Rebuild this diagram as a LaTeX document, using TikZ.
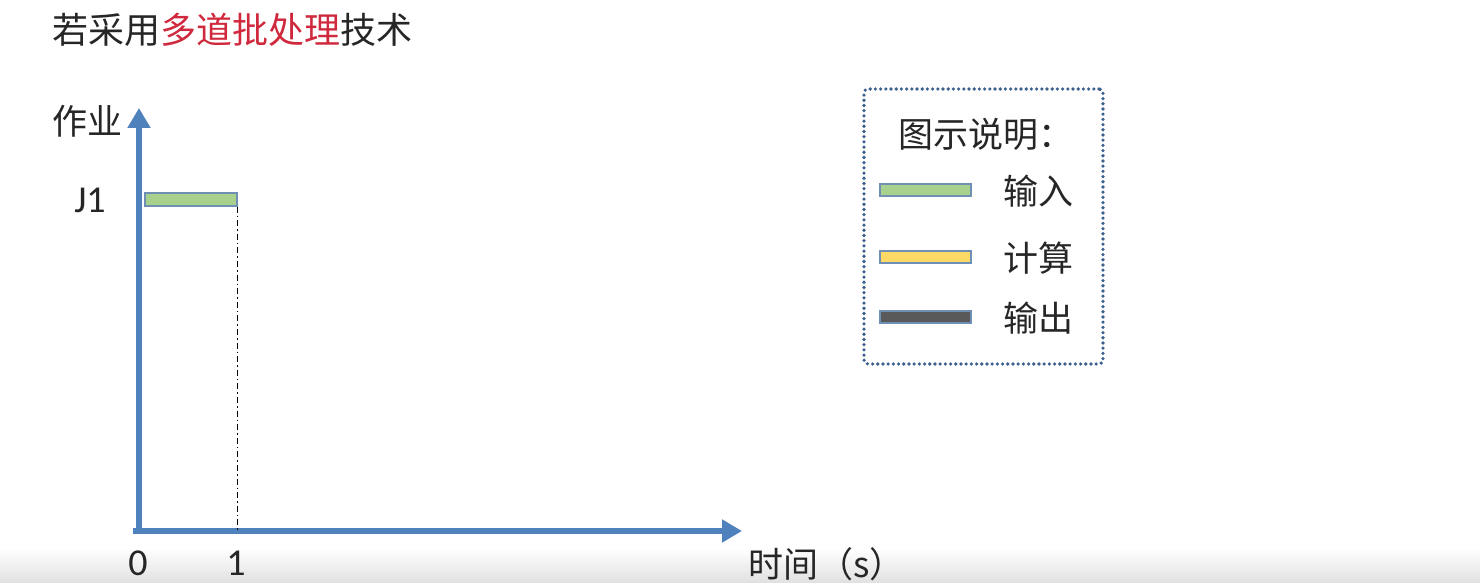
\documentclass[tikz,border=0pt]{standalone}
\usepackage{fontspec}
\setmainfont{Carlito}
\newfontfamily\cjk{Noto Sans CJK SC}[Scale=1]
\usetikzlibrary{arrows.meta}
\definecolor{axisblue}{HTML}{4F81BD}
\definecolor{axisedge}{HTML}{41719C}
\definecolor{ingreen}{HTML}{A9D18E}
\definecolor{calcyellow}{HTML}{FFD966}
\definecolor{outgray}{HTML}{595959}
\definecolor{baredge}{HTML}{6F8FB5}
\definecolor{legendblue}{HTML}{3A5F8C}
\definecolor{titlered}{HTML}{D0283C}
\tikzset{
  axis/.style={line width=3pt, draw=axisblue, -{Triangle[width=11pt,length=10pt]}},
  bar/.style={draw=baredge, line width=0.6pt},
  txt/.style={inner sep=0pt, font=\cjk\fontsize{17.5pt}{20pt}\selectfont, text=black!85},
  num/.style={inner sep=0pt, font=\fontsize{19pt}{21pt}\selectfont, text=black!85},
}
\begin{document}
\begin{tikzpicture}[x=0.5pt,y=-0.5pt]
\useasboundingbox (0,0) rectangle (1480,583);
\fill[white] (0,0) rectangle (1480,583);
\shade[top color=white, bottom color=black!12] (0,548) rectangle (1480,583);

% title
\node[txt, anchor=west, font=\cjk\fontsize{18pt}{20pt}\selectfont] (title) at (52,30) {若采用\textcolor{titlered}{多道批处理}技术};

% axes
\coordinate (origin) at (139,531);
\coordinate (ytip) at (139,108);
\coordinate (xtip) at (742,531);
\draw[axis] (133,531) -- (xtip);
\draw[axis] (139,534) -- (ytip);

\node[txt, anchor=west] (ylab) at (52,121) {作业};
\node[txt, anchor=west] (xlab) at (748,564) {时间（s）};
\node[num] (j1) at (90,200) {J1};
\node[num] (t0) at (138,563) {0};
\node[num] (t1) at (236,563) {1};

% J1 input bar
\node[bar, fill=ingreen, minimum width=46pt, minimum height=6.5pt, inner sep=0pt] (j1in) at (191,199.5) {};
\draw[line width=0.5pt, dash pattern=on 3pt off 1.5pt on 0.8pt off 1.5pt] (j1in.south east) -- (j1in.south east |- origin);

% legend
\node[draw=legendblue, line width=1.8pt, dash pattern=on 0pt off 2.6pt, line cap=round, minimum width=119.5pt, minimum height=137.5pt, inner sep=0pt, rounded corners=2pt] (legend) at (983.5,226.5) {};
\node[txt, anchor=west] (ltitle) at (898,134) {图示说明：};
\node[bar, fill=ingreen, minimum width=45.5pt, minimum height=6pt, inner sep=0pt] (lin) at (925.5,190) {};
\node[bar, fill=calcyellow, minimum width=45.5pt, minimum height=6pt, inner sep=0pt] (lcalc) at (925.5,257) {};
\node[bar, fill=outgray, minimum width=45.5pt, minimum height=6pt, inner sep=0pt] (lout) at (925.5,317) {};
\node[txt, anchor=west] (tin) at (1003,191) {输入};
\node[txt, anchor=west] (tcalc) at (1003,258) {计算};
\node[txt, anchor=west] (tout) at (1003,318) {输出};
\end{tikzpicture}
\end{document}
